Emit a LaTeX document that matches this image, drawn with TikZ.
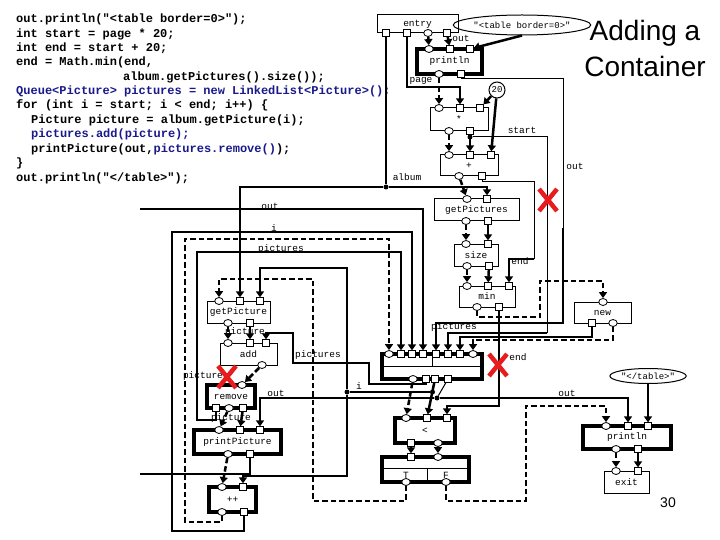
\documentclass[tikz,border=0pt]{standalone}
\usepackage{fontspec}
\setmainfont{Liberation Sans}
\newfontfamily\codefont{Liberation Mono}
\usetikzlibrary{arrows.meta,shapes.geometric}
\definecolor{codeblue}{RGB}{25,25,140}
\definecolor{xred}{RGB}{232,28,28}
\begin{document}
\begin{tikzpicture}[x=1pt,y=-1pt,
  sbox/.style={draw,line width=1pt,inner sep=0pt,font=\codefont\fontsize{9.5}{10}\selectfont},
  tbox/.style={sbox,line width=3.5pt},
  sq/.style={draw,fill=white,rectangle,minimum size=6.5pt,inner sep=0pt,line width=0.8pt},
  ci/.style={draw,fill=white,ellipse,minimum width=8.5pt,minimum height=7pt,inner sep=0pt,line width=0.8pt},
  wire/.style={line width=2.5pt},
  thinwire/.style={line width=1pt},
  ctrl/.style={line width=2.5pt,dash pattern=on 5.5pt off 3pt},
  arr/.style={-{Triangle[width=8pt,length=6pt]}},
  lbl/.style={font=\codefont\fontsize{9.5}{10}\selectfont,inner sep=0pt},
  codeln/.style={font=\codefont\bfseries\fontsize{12}{14}\selectfont,anchor=west,inner sep=0pt},
  jdot/.style={circle,fill,inner sep=0pt,minimum size=5pt},
  redx/.style={xred,line width=4.5pt},
]
\useasboundingbox (0,0) rectangle (720,540);
\fill[white] (0,0) rectangle (720,540);

% ---------- code ----------
\node[codeln] (c1) at (16,19) {out.println("<table border=0>");};
\node[codeln] (c2) at (16,34) {int start = page * 20;};
\node[codeln] (c3) at (16,48) {int end = start + 20;};
\node[codeln] (c4) at (16,62) {end = Math.min(end,};
\node[codeln] (c5) at (123,77) {album.getPictures().size());};
\node[codeln,codeblue] (c6) at (16,91) {Queue<Picture> pictures = new LinkedList<Picture>();};
\node[codeln] (c7) at (16,105) {for (int i = start; i < end; i++) \{};
\node[codeln] (c8) at (31,120) {Picture picture = album.getPicture(i);};
\node[codeln,codeblue] (c9) at (31,134) {pictures.add(picture);};
\node[codeln] (c10) at (31,149) {printPicture(out,\textcolor{codeblue}{pictures.remove()});};
\node[codeln] (c11) at (16,163) {\}};
\node[codeln] (c12) at (16,178) {out.println("</table>");};

% ---------- title ----------
\node[font=\fontsize{28}{30}\selectfont,inner sep=0pt] (t1) at (645,33) {Adding a};
\node[font=\fontsize{28}{30}\selectfont,inner sep=0pt] (t2) at (645,66) {Container};
\node[font=\fontsize{14}{16}\selectfont,inner sep=0pt] (pg) at (668,503) {30};

% ---------- boxes ----------
\node[sbox,minimum width=81pt,minimum height=18pt] (entry) at (417.5,24) {entry};
\node[tbox,minimum width=65pt,minimum height=25pt] (pr1) at (449.5,61.5) {println};
\node[sbox,minimum width=58pt,minimum height=23pt] (star) at (459,119.5) {*};
\node[sbox,minimum width=58pt,minimum height=21pt] (plus) at (469,165.5) {+};
\node[sbox,minimum width=85pt,minimum height=22pt] (gps) at (476.5,210) {getPictures};
\node[sbox,minimum width=44pt,minimum height=22pt] (size) at (476,255) {size};
\node[sbox,minimum width=56pt,minimum height=21pt] (min) at (487,296.5) {min};
\node[sbox,minimum width=57pt,minimum height=21pt] (new) at (602.5,312.5) {new};
\node[sbox,minimum width=63pt,minimum height=22pt] (gp) at (238.5,312) {getPicture};
\node[sbox,minimum width=57pt,minimum height=22pt] (add) at (248.5,354) {add};
\node[tbox,minimum width=48pt,minimum height=23pt] (rem) at (231,396.5) {remove};
\node[tbox,minimum width=87pt,minimum height=24pt] (pp) at (237.5,442) {printPicture};
\node[tbox,minimum width=47pt,minimum height=25pt] (inc) at (232.5,499.5) {++};
\node[tbox,minimum width=100pt,minimum height=25pt] (loop) at (432,366.5) {};
\draw[line width=1pt] (382,366) -- (482,366) (432,354) -- (432,366);
\node[tbox,minimum width=60pt,minimum height=25pt] (lt) at (425,430.5) {<};
\node[tbox,minimum width=87pt,minimum height=25pt] (br) at (425.5,469.5) {};
\draw[line width=1pt] (382,468) -- (469,468) (427,468) -- (427,482);
\node[lbl] (tT) at (406,475) {T};
\node[lbl] (tF) at (446,475) {F};
\node[tbox,minimum width=88pt,minimum height=23pt] (pr2) at (627,437.5) {println};
\node[sbox,minimum width=45pt,minimum height=22pt] (exit) at (626.5,482) {exit};
\node[sbox,ellipse,minimum width=121pt,minimum height=20pt,font=\codefont\fontsize{9}{10}\selectfont] (e1) at (522,25) {"<table border=0>"};
\node[sbox,ellipse,minimum width=70pt,minimum height=15pt,font=\codefont\fontsize{9}{10}\selectfont] (e2) at (648,376) {"</table>"};
\node[sbox,circle,minimum size=16pt,font=\codefont\fontsize{9}{10}\selectfont] (c20) at (497,90) {20};

% ---------- ports ----------
\node[sq] (eA) at (386,33) {}; \node[sq] (eB) at (407,33) {}; \node[ci] (eC) at (428,33) {}; \node[sq] (eD) at (447,33) {};
\node[ci] (p1a) at (429,49) {}; \node[sq] (p1b) at (450,49) {}; \node[sq] (p1c) at (470,49) {};
\node[ci] (p1d) at (439,74) {}; \node[sq] (p1e) at (461,74) {};
\node[ci] (sa) at (439,108) {}; \node[sq] (sb) at (460,108) {}; \node[sq] (sc) at (480,108) {};
\node[ci] (sd) at (449,131) {}; \node[sq] (se) at (470,131) {};
\node[ci] (pa) at (449,155) {}; \node[sq] (pb) at (470,155) {}; \node[sq] (pc) at (491,155) {};
\node[ci] (pd) at (459,176) {}; \node[sq] (pe) at (482,176) {};
\node[ci] (ga) at (467,199) {}; \node[sq] (gb) at (487,199) {};
\node[ci] (gc) at (466,221) {}; \node[sq] (gd) at (488,221) {};
\node[ci] (za) at (466,244) {}; \node[sq] (zb) at (488,244) {};
\node[ci] (zc) at (467,266) {}; \node[sq] (zd) at (489,266) {};
\node[ci] (ma) at (467,286) {}; \node[sq] (mb) at (488,286) {}; \node[sq] (mc) at (509,286) {};
\node[ci] (md) at (477,307) {}; \node[sq] (me) at (499,307) {};
\node[ci] (na) at (603,302) {}; \node[sq] (nb) at (592,323) {}; \node[ci] (nc) at (613,323) {};
\node[ci] (qa) at (219,301) {}; \node[sq] (qb) at (240,301) {}; \node[sq] (qc) at (260,301) {};
\node[ci] (qd) at (228,323) {}; \node[sq] (qe) at (250,323) {};
\node[ci] (aa) at (228,343) {}; \node[sq] (ab) at (250,343) {}; \node[sq] (ac) at (266,343) {};
\node[ci] (ad) at (262,365) {};
\node[ci] (ra) at (242,385) {};
\node[sq] (rb) at (216,408) {}; \node[ci] (rc) at (229,408) {}; \node[sq] (rd) at (243,408) {};
\node[ci] (ta) at (219,430) {}; \node[sq] (tb) at (240,430) {}; \node[sq] (tc) at (260,430) {};
\node[ci] (td) at (228,454) {}; \node[sq] (te) at (250,454) {};
\node[ci] (ua) at (222,487) {}; \node[sq] (ub) at (243,487) {};
\node[ci] (uc) at (222,512) {}; \node[sq] (ud) at (244,512) {};
\node[ci] (la) at (389,354) {}; \node[sq] (lb) at (401,354) {}; \node[sq] (lc) at (412,354) {}; \node[sq] (ld) at (423,354) {};
\node[sq] (le) at (436,354) {}; \node[sq] (lf) at (448,354) {}; \node[sq] (lg) at (460,354) {}; \node[ci] (lh) at (473,354) {};
\node[ci] (li) at (413,379) {}; \node[sq] (lj) at (426,379) {}; \node[sq] (lk) at (435,379) {}; \node[sq] (ll) at (448,379) {};
\node[ci] (ca) at (406,418) {}; \node[sq] (cb) at (427,418) {}; \node[sq] (cc) at (447,418) {};
\node[sq] (cd) at (411,443) {}; \node[ci] (ce) at (438,443) {};
\node[sq] (ba) at (411,457) {}; \node[ci] (bb) at (438,457) {};
\node[ci] (bT) at (406,482) {}; \node[ci] (bF) at (446,482) {};
\node[ci] (ka) at (606,426) {}; \node[sq] (kb) at (628,426) {}; \node[sq] (kc) at (648,426) {};
\node[ci] (kd) at (616,449) {}; \node[sq] (ke) at (638,449) {};
\node[ci] (xa) at (616,471) {}; \node[sq] (xb) at (638,471) {};

% ---------- junctions and free ends ----------
\node[jdot] (jstart) at (470,137) {};
\node[jdot] (jalb) at (386,187) {};
\node[jdot] (ji) at (432.5,392) {};
\node[jdot] (jiL) at (347,392) {};
\node[jdot] (jout) at (437,398) {};
\coordinate (cstart) at (547,333);
\coordinate (cend) at (534,259);
\coordinate (cout1) at (563,228);
\coordinate (coutA) at (140,474);
\coordinate (coutB) at (140,209);

% ---------- connectors ----------
\draw[ctrl,arr] (eC) -- (p1a);
\draw[wire,arr] (eD) -- (p1b);
\draw[wire,arr] (e1.south) -- (p1c);
\draw[wire,arr] (eB) |- (460,87) -- (sb);
\draw[ctrl,arr] (p1d) -- (sa);
\draw[wire,arr] (c20) -- (sc);
\draw[wire,arr] (c20) -- (pc);
\draw[ctrl,arr] (sd) -- (pa);
\draw[wire,arr] (se) -- (pb);
\draw[thinwire] (jstart) -- (547,137) -- (cstart);
\draw[wire,arr] (cstart) -| (lf);
\draw[wire] (eA) -- (jalb);
\draw[wire,arr] (jalb) -| (qb);
\draw[wire,arr] (jalb) -| (gb);
\draw[ctrl,arr] (pd) -- (ga);
\draw[thinwire] (pe) |- (534,182) -- (cend);
\draw[wire,arr] (cend) -| (mc);
\draw[thinwire] (p1e) |- (563,79) -- (cout1);
\draw[wire,arr] (cout1) -- (563,323) -| (le);
\draw[ctrl,arr] (gc) -- (za);
\draw[wire,arr] (gd) -- (zb);
\draw[ctrl,arr] (zc) -- (ma);
\draw[wire,arr] (zd) -- (mb);
\draw[ctrl,arr] (md) |- (540,317) |- (603,281) -- (na);
\draw[wire,arr] (me) -- (499,406) -| (cc);
\draw[wire,arr] (nb) -- (592,337) -| (lg);
\draw[ctrl,arr] (nc) -- (613,340) -| (lh);
\draw[ctrl,arr] (uc) -- (222,522) -- (185,522) -- (185,239) -| (la);
\draw[wire,arr] (rb) -- (216,420) -- (197,420) -- (197,252) -| (lb);
\draw[wire,arr] (ud) -- (244,531) -- (172,531) -- (172,232) -| (lc);
\draw[wire] (te) -- (250,474) -- (coutA);
\draw[wire,arr] (coutB) -| (ld);
\draw[ctrl,arr] (li) -- (ca);
\draw[line width=1.4pt,arr] (lj) -- (426,384) -- (369,384) -- (369,363) -- (293,363) -- (293,333) -| (ac);
\draw[wire,arr] (lk) -- (cb);
\draw[wire] (ji) -- (jiL);
\draw[wire,arr] (jiL) -- (347,268) -| (qc);
\draw[wire,arr] (jiL) -- (347,476) -| (ub);
\draw[thinwire] (ll) -- (jout);
\draw[wire,arr] (jout) -| (tc);
\draw[wire,arr] (jout) -| (kb);
\draw[wire,arr] (cd) -- (ba);
\draw[ctrl,arr] (ce) -- (bb);
\draw[ctrl,arr] (bT) -- (406,501) -- (313,501) -- (313,279) -| (qa);
\draw[ctrl,arr] (bF) -- (446,501) -- (526,501) -- (526,406) -| (ka);
\draw[wire,arr] (e2) -- (kc);
\draw[ctrl,arr] (kd) -- (xa);
\draw[wire,arr] (ke) -- (xb);
\draw[ctrl,arr] (qd) -- (aa);
\draw[wire,arr] (qe) -- (ab);
\draw[ctrl,arr] (ad) -- (ra);
\draw[ctrl,arr] (rc) -- (ta);
\draw[wire,arr] (rd) -- (tb);
\draw[ctrl,arr] (td) -- (ua);

% ---------- labels ----------
\node[lbl] (l1) at (461,38) {out};
\node[lbl] (l2) at (421,81) {page};
\node[lbl] (l3) at (522,130) {start};
\node[lbl] (l4) at (575,166) {out};
\node[lbl] (l5) at (407,177) {album};
\node[lbl] (l6) at (520,261) {end};
\node[lbl] (l7) at (270,206) {out};
\node[lbl] (l8) at (274,228) {i};
\node[lbl] (l9) at (281,249) {pictures};
\node[lbl] (l10) at (245,332) {picture};
\node[lbl] (l11) at (203,376) {picture};
\node[lbl] (l12) at (318,355) {pictures};
\node[lbl] (l13) at (359,386) {i};
\node[lbl] (l14) at (518,357) {end};
\node[lbl] (l15) at (276,393) {out};
\node[lbl] (l16) at (567,393) {out};
\node[lbl] (l17) at (231,418) {picture};
\node[lbl] (l18) at (454,327) {pictures};

% ---------- red crosses ----------
\draw[redx] (539,189) -- (557,211) (557,189) -- (539,211);
\draw[redx] (218,366) -- (236,388) (236,366) -- (218,388);
\draw[redx] (489,354) -- (507,376) (507,354) -- (489,376);
\end{tikzpicture}
\end{document}
